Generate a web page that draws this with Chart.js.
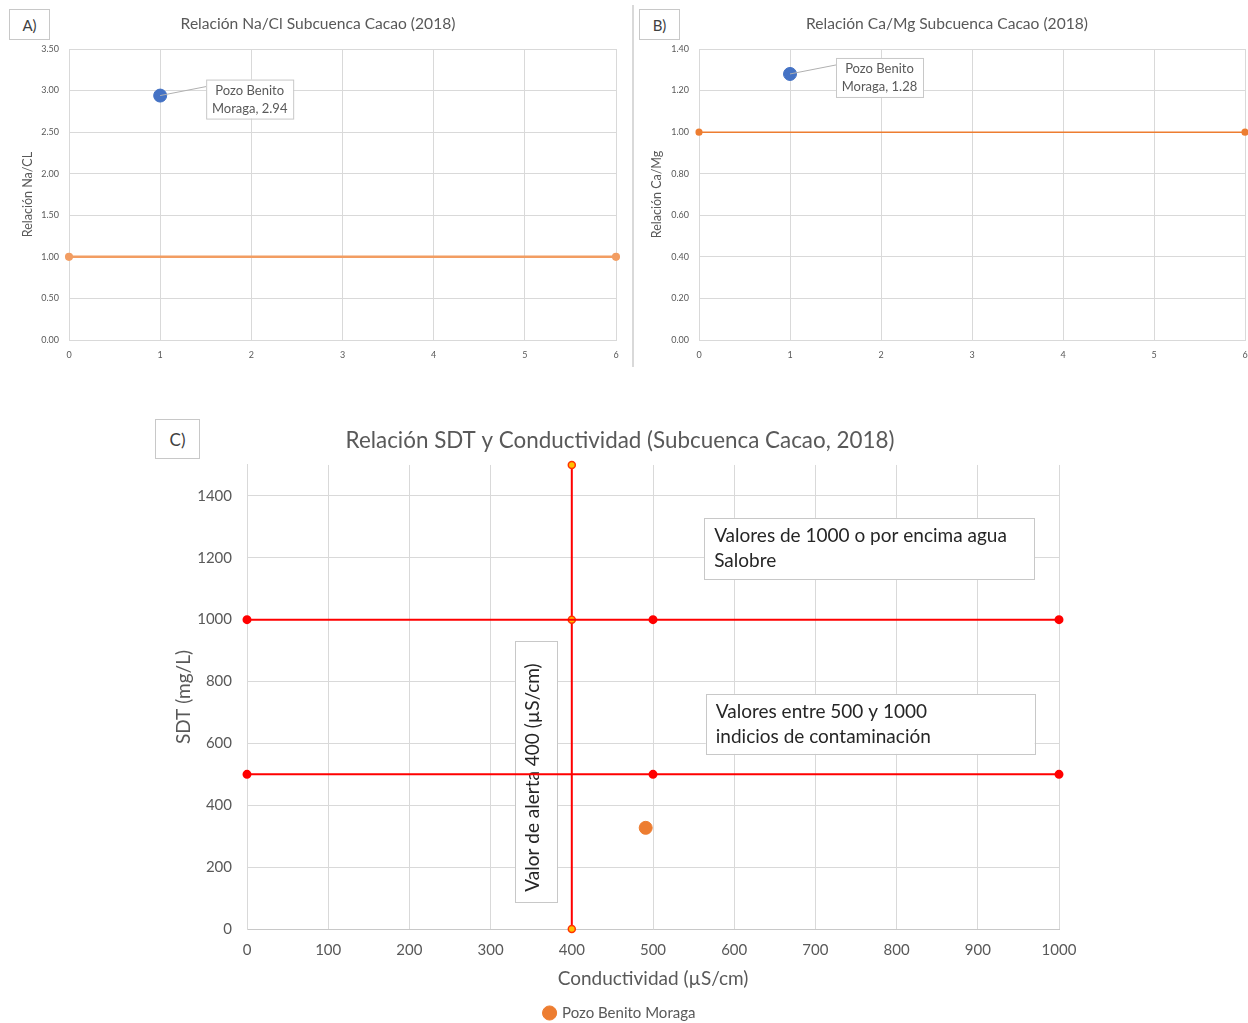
<!DOCTYPE html>
<html>
<head>
<meta charset="utf-8">
<script src="https://cdn.jsdelivr.net/npm/chart.js@4.4.0/dist/chart.umd.min.js"></script>
<style>
  body { margin: 0; background: #fff; width: 1248px; height: 1023px; overflow: hidden; position: relative; font-family: Lato, sans-serif; }
  canvas, .tag, .sep { position: absolute; }
  .tag { border: 1px solid #c8c8c8; color: #404040; display: flex; align-items: center; justify-content: center; box-sizing: border-box; background: #fff; z-index: 2; }
  .sep { left: 632px; top: 5px; width: 2px; height: 362px; background: #d9d9d9; }
</style>
</head>
<body>
<canvas id="chartA" width="632" height="370" style="left:0;top:0"></canvas>
<canvas id="chartB" width="645" height="370" style="left:635px;top:0"></canvas>
<canvas id="chartC" width="940" height="630" style="left:150px;top:410px"></canvas>
<div class="sep"></div>
<div class="tag" style="left:9px;top:9px;width:41px;height:31px;font-size:15px">A)</div>
<div class="tag" style="left:639px;top:9px;width:41px;height:31px;font-size:15px">B)</div>
<div class="tag" style="left:155px;top:419px;width:45px;height:40px;font-size:17px">C)</div>
<script>
// datos
const wellName = 'Pozo Benito Moraga';
const abXTicks = [0, 1, 2, 3, 4, 5, 6];
const naClTicks = [0, 0.5, 1, 1.5, 2, 2.5, 3, 3.5];
const caMgTicks = [0, 0.2, 0.4, 0.6, 0.8, 1, 1.2, 1.4];
const naClX = [1], naClY = [2.94];
const caMgX = [1], caMgY = [1.28];
const refX = [0, 6], refY = [1, 1];

const condTicks = [0, 100, 200, 300, 400, 500, 600, 700, 800, 900, 1000];
const sdtTicks = [0, 200, 400, 600, 800, 1000, 1200, 1400];
const wellCond = [491], wellSdt = [327];
const salineX = [0, 500, 1000], salineY = [1000, 1000, 1000];
const contamX = [0, 500, 1000], contamY = [500, 500, 500];
const alertX = [400, 400, 400], alertY = [1500, 1000, 0];

const pts = (xs, ys) => xs.map((x, i) => ({ x, y: ys[i] }));
const GRID = '#d9d9d9', TXT = '#595959';

// etiqueta con línea guía para el punto del pozo
const calloutPlugin = {
  id: 'callout',
  afterDatasetsDraw(chart) {
    const pt = chart.getDatasetMeta(0).data[0];
    const val = chart.data.datasets[0].data[0].y;
    const ctx = chart.ctx;
    const bx = pt.x + 46, by = pt.y - 16, bw = 87, bh = 39;
    const cut = wellName.lastIndexOf(' ');
    const lines = [wellName.slice(0, cut), wellName.slice(cut + 1) + ', ' + val.toFixed(2)];
    ctx.save();
    ctx.strokeStyle = '#b0b0b0';
    ctx.lineWidth = 1;
    ctx.beginPath();
    ctx.moveTo(pt.x, pt.y);
    ctx.lineTo(bx, by + 7);
    ctx.stroke();
    ctx.fillStyle = '#fff';
    ctx.fillRect(bx, by, bw, bh);
    ctx.strokeStyle = '#c8c8c8';
    ctx.strokeRect(bx + 0.5, by + 0.5, bw, bh);
    ctx.fillStyle = TXT;
    ctx.font = '13px Lato';
    ctx.textAlign = 'center';
    ctx.textBaseline = 'middle';
    ctx.fillText(lines[0], bx + bw / 2, by + 11);
    ctx.fillText(lines[1], bx + bw / 2, by + 29);
    ctx.restore();
  }
};

function ratioChart(id, title, yTitle, xs, ys, yTicks, pad, yWidth, lineStyle) {
  return new Chart(document.getElementById(id), {
    type: 'scatter',
    data: {
      datasets: [
        { label: wellName, data: pts(xs, ys), backgroundColor: '#4472c4', borderColor: '#4472c4', pointRadius: 6.5 },
        { label: 'Referencia', data: pts(refX, refY), showLine: true, clip: false, borderColor: lineStyle.color, backgroundColor: lineStyle.color,
          borderWidth: lineStyle.width, pointRadius: 2.8 }
      ]
    },
    options: {
      responsive: false,
      animation: false,
      layout: { padding: pad },
      plugins: {
        legend: { display: false },
        tooltip: { enabled: false },
        title: { display: true, text: title, color: TXT, font: { family: 'Lato', size: 15.6, weight: 'normal' }, padding: { top: 14.6, bottom: 15.7 } }
      },
      scales: {
        x: {
          type: 'linear', min: 0, max: 6,
          afterBuildTicks: s => { s.ticks = abXTicks.map(v => ({ value: v })); },
          afterFit: s => { s.height = 30; },
          grid: { color: GRID, drawTicks: false },
          border: { color: GRID },
          ticks: { color: TXT, font: { family: 'Lato', size: 9 }, padding: 9.6 }
        },
        y: {
          min: 0, max: yTicks[yTicks.length - 1],
          afterBuildTicks: s => { s.ticks = yTicks.map(v => ({ value: v })); },
          afterFit: s => { s.width = yWidth; },
          grid: { color: GRID, drawTicks: false },
          border: { color: GRID },
          ticks: { color: TXT, font: { family: 'Lato', size: 9 }, padding: 10, callback: v => v.toFixed(2) },
          title: { display: true, text: yTitle, color: TXT, font: { family: 'Lato', size: 12.5 }, padding: { top: 0.5 } }
        }
      }
    },
    plugins: [calloutPlugin]
  });
}

ratioChart('chartA', 'Relación Na/Cl Subcuenca Cacao (2018)', 'Relación Na/CL', naClX, naClY, naClTicks,
  { left: 20, right: 16, top: 0, bottom: 0 }, 49, { color: '#f29d62', width: 2.5 });
ratioChart('chartB', 'Relación Ca/Mg Subcuenca Cacao (2018)', 'Relación Ca/Mg', caMgX, caMgY, caMgTicks,
  { left: 14, right: 35, top: 0, bottom: 0 }, 50, { color: '#ed7d31', width: 1.5 });

// cuadros de texto del gráfico C
const notesPlugin = {
  id: 'notes',
  beforeDatasetsDraw(chart, args, opts) {
    const { ctx, scales: { x, y } } = chart;
    opts.items.forEach(n => {
      const l = x.getPixelForValue(n.x0), r = x.getPixelForValue(n.x1);
      const t = y.getPixelForValue(n.y1), b = y.getPixelForValue(n.y0);
      ctx.save();
      ctx.fillStyle = '#fff';
      ctx.fillRect(l, t, r - l, b - t);
      ctx.strokeStyle = '#c8c8c8';
      ctx.lineWidth = 1;
      ctx.strokeRect(Math.round(l) + 0.5, Math.round(t) + 0.5, Math.round(r - l), Math.round(b - t));
      ctx.fillStyle = '#262626';
      ctx.font = n.size + 'px Lato';
      ctx.textBaseline = 'middle';
      if (n.vertical) {
        ctx.translate((l + r) / 2 + n.dx, (t + b) / 2 + n.dy);
        ctx.rotate(-Math.PI / 2);
        ctx.textAlign = 'center';
        ctx.fillText(n.lines[0], 0, 0);
      } else {
        ctx.textAlign = 'left';
        n.lines.forEach((s, i) => ctx.fillText(s, l + 10, t + 17.5 + i * 25));
      }
      ctx.restore();
    });
  }
};

const redMarker = { pointRadius: 3.5, pointBackgroundColor: '#ff0000', pointBorderColor: '#ff0000' };

new Chart(document.getElementById('chartC'), {
  type: 'scatter',
  data: {
    datasets: [
      { label: wellName, data: pts(wellCond, wellSdt), backgroundColor: '#ed7d31', borderColor: '#ed7d31', pointRadius: 6.5 },
      { label: 'SDT 1000', data: pts(salineX, salineY), showLine: true, clip: false, borderColor: '#ff0000', borderWidth: 2, ...redMarker },
      { label: 'SDT 500', data: pts(contamX, contamY), showLine: true, clip: false, borderColor: '#ff0000', borderWidth: 2, ...redMarker },
      { label: 'Alerta 400', data: pts(alertX, alertY), showLine: true, clip: false, borderColor: '#ff0000', borderWidth: 2,
        pointRadius: 3.5, pointBackgroundColor: '#ffc000', pointBorderColor: '#ff3300', pointBorderWidth: 1.5 }
    ]
  },
  options: {
    responsive: false,
    animation: false,
    layout: { padding: { left: 31, right: 31, top: 0, bottom: 9.5 } },
    plugins: {
      tooltip: { enabled: false },
      title: { display: true, text: 'Relación SDT y Conductividad (Subcuenca Cacao, 2018)', color: TXT,
        font: { family: 'Lato', size: 22.4, weight: 'normal' }, padding: { top: 17.3, bottom: 10.8 } },
      legend: {
        position: 'bottom',
        labels: { filter: it => it.datasetIndex === 0, usePointStyle: true, pointStyle: 'circle', boxWidth: 10, boxHeight: 10,
          color: TXT, font: { family: 'Lato', size: 15 }, padding: 10 }
      },
      notes: {
        items: [
          { x0: 563, x1: 970, y0: 1131, y1: 1329, size: 19, lines: ['Valores de 1000 o por encima agua', 'Salobre'] },
          { x0: 565, x1: 970, y0: 566, y1: 760, size: 19, lines: ['Valores entre 500 y 1000', 'indicios de contaminación'] },
          { x0: 330, x1: 382, y0: 87, y1: 931, size: 19, vertical: true, dx: -3, dy: 6, lines: ['Valor de alerta 400 (µS/cm)'] }
        ]
      }
    },
    scales: {
      x: {
        type: 'linear', min: 0, max: 1000,
        afterBuildTicks: s => { s.ticks = condTicks.map(v => ({ value: v })); },
        afterFit: s => { s.height = 66.5; },
        grid: { color: GRID, drawTicks: false },
        border: { color: '#c8c8c8' },
        ticks: { color: TXT, font: { family: 'Lato', size: 15 }, padding: 12, callback: v => String(v) },
        title: { display: true, text: 'Conductividad (µS/cm)', color: TXT, font: { family: 'Lato', size: 19 }, padding: { bottom: 5.5 } }
      },
      y: {
        min: 0, max: 1500,
        afterBuildTicks: s => { s.ticks = sdtTicks.map(v => ({ value: v })); },
        afterFit: s => { s.width = 66; },
        grid: { color: GRID, drawTicks: false },
        border: { color: GRID },
        ticks: { color: TXT, font: { family: 'Lato', size: 15 }, padding: 15, callback: v => String(v) },
        title: { display: true, text: 'SDT (mg/L)', color: TXT, font: { family: 'Lato', size: 19 }, padding: { top: -8.4 } }
      }
    }
  },
  plugins: [notesPlugin]
});
</script>
</body>
</html>
